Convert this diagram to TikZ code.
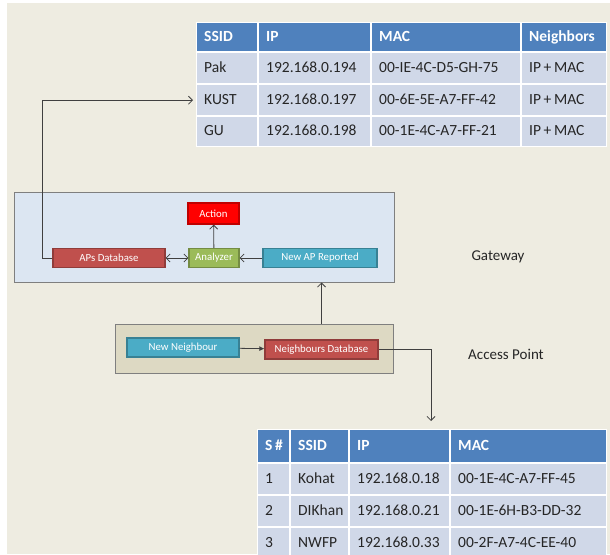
\documentclass[tikz,border=0pt]{standalone}
\usepackage{fontspec}
\setmainfont{Carlito}
\usetikzlibrary{arrows.meta,positioning}

\definecolor{bgtan}{HTML}{EEECE1}
\definecolor{aptan}{HTML}{DDD9C3}
\definecolor{gwblue}{HTML}{DCE6F2}
\definecolor{hdrblue}{HTML}{4F81BD}
\definecolor{rowblue}{HTML}{D0D8E8}
\definecolor{dbred}{HTML}{C0504D}
\definecolor{anagreen}{HTML}{9BBB59}
\definecolor{newblue}{HTML}{4BACC6}
\definecolor{linegray}{HTML}{404040}
\definecolor{boxgray}{HTML}{7F7F7F}

\newcommand\tabfont{\fontsize{15.5}{18}\selectfont}

\begin{document}
\begin{tikzpicture}[x=1pt,y=-1pt,
  >={Straight Barb[length=4pt,width=8pt]},
  conn/.style={draw=linegray, line width=0.8pt, ->},
  block/.style={draw=#1!75!black, line width=1.2pt, fill=#1, text=white, inner sep=0pt,
                minimum height=19pt, font=\fontsize{10.8}{12}\selectfont},
  group/.style={draw=boxgray, line width=1pt, fill=#1, inner sep=0pt},
  lbl/.style={font=\fontsize{15}{18}\selectfont, text=black!85},
  tcell/.style={fill=rowblue, anchor=north west, inner xsep=7pt, inner ysep=0pt, align=left,
                text height=11pt, text depth=3pt, font=\tabfont, text=black!85},
  thead/.style={tcell, fill=hdrblue, text=white, font=\tabfont\bfseries}]

  \useasboundingbox (0,0) rectangle (610,554);
  \clip (0,0) rectangle (610,554);

% page background
  \fill[white] (0,0) rectangle (610,554);
  \fill[bgtan] (7,3) rectangle (610,554);

% gateway table
  \fill[white] (196,22) rectangle (607,147);
  \foreach \x/\w/\t [count=\c] in {197/46/SSID, 259/97/IP, 372/134/MAC, 522/70/Neighbors}
    \node[thead, text width=\w pt, minimum height=28pt] (ta-h\c) at (\x,23) {\t};
  \foreach \x/\w/\t [count=\c] in {197/46/Pak, 259/97/192.168.0.194, 372/134/00-IE-4C-D5-GH-75, 522/70/IP\,+\,MAC}
    \node[tcell, text width=\w pt, minimum height=30pt] (ta-r1c\c) at (\x,53) {\t};
  \foreach \x/\w/\t [count=\c] in {197/46/KUST, 259/97/192.168.0.197, 372/134/00-6E-5E-A7-FF-42, 522/70/IP\,+\,MAC}
    \node[tcell, text width=\w pt, minimum height=30pt] (ta-r2c\c) at (\x,85) {\t};
  \foreach \x/\w/\t [count=\c] in {197/46/GU, 259/97/192.168.0.198, 372/134/00-1E-4C-A7-FF-21, 522/70/IP\,+\,MAC}
    \node[tcell, text width=\w pt, minimum height=29pt] (ta-r3c\c) at (\x,117) {\t};

% gateway
  \node[group=gwblue, minimum width=380pt, minimum height=90pt] (gateway) at (204,237) {};
  \node[block=red, minimum width=51pt, minimum height=21pt] (action) at (213.5,213.5) {Action};
  \node[block=dbred, minimum width=112pt] (apsdb) at (109,258) {APs Database};
  \node[block=anagreen, minimum width=50pt] (analyzer) at (214,258) {Analyzer};
  \node[block=newblue, minimum width=114pt] (newap) at (320,258) {New AP Reported};
  \node[lbl] (gwlabel) at (498,257) {Gateway};

  \draw[conn] (analyzer) -- (action);
  \draw[conn] (newap) -- (analyzer);
  \draw[conn, <->] (apsdb) -- (analyzer);
  \draw[conn, shorten >=4pt] (apsdb.west) -- ++(-10,0) |- (ta-r2c1.west);

% access point
  \node[group=aptan, minimum width=278pt, minimum height=49pt] (apbox) at (254,348.5) {};
  \node[block=newblue, minimum width=112pt] (newnb) at (183,347.5) {New Neighbour};
  \node[block=dbred, minimum width=113pt] (nbdb) at (321.5,349.5) {Neighbours Database};
  \node[lbl] (aplabel) at (506,354) {Access Point};

  \draw[conn, -{Latex[length=5pt,width=5pt]}] (newnb) -- (nbdb);
  \draw[conn] (nbdb.north |- apbox.north) -- (nbdb.north |- gateway.south);
  \coordinate (drop) at (431,421);
  \draw[conn] (nbdb.east) -| (drop);

% neighbours table
  \fill[white] (257,429) rectangle (607,560);
  \foreach \x/\w/\t [count=\c] in {258/17/S\,\#, 291/43/SSID, 350/85/IP, 451/141/MAC}
    \node[thead, text width=\w pt, minimum height=32pt] (tb-h\c) at (\x,430) {\t};
  \foreach \x/\w/\t [count=\c] in {258/17/1, 291/43/Kohat, 350/85/192.168.0.18, 451/141/00-1E-4C-A7-FF-45}
    \node[tcell, text width=\w pt, minimum height=30pt] (tb-r1c\c) at (\x,464) {\t};
  \foreach \x/\w/\t [count=\c] in {258/17/2, 291/43/DIKhan, 350/85/192.168.0.21, 451/141/00-1E-6H-B3-DD-32}
    \node[tcell, text width=\w pt, minimum height=30pt] (tb-r2c\c) at (\x,496) {\t};
  \foreach \x/\w/\t [count=\c] in {258/17/3, 291/43/NWFP, 350/85/192.168.0.33, 451/141/00-2F-A7-4C-EE-40}
    \node[tcell, text width=\w pt, minimum height=30pt] (tb-r3c\c) at (\x,528) {\t};

\end{tikzpicture}
\end{document}
